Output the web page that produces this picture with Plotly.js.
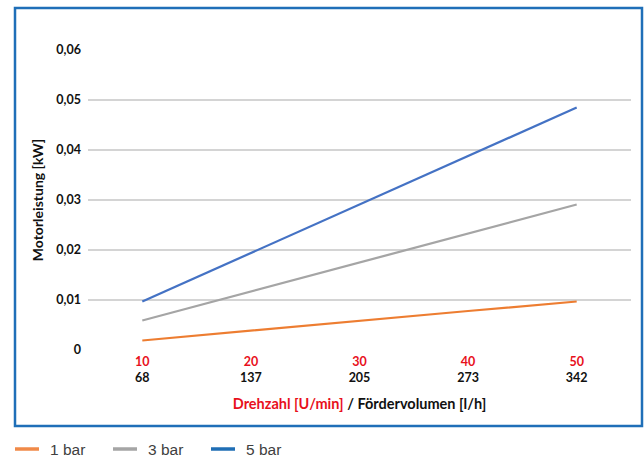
<!DOCTYPE html>
<html>
<head>
<meta charset="utf-8">
<script src="https://cdn.plot.ly/plotly-3.0.1.min.js"></script>
<style>html,body{margin:0;padding:0;background:#fff;}#chart{width:644px;height:457px;}</style>
</head>
<body>
<div id="chart"></div>
<script>
var drehzahl = ['10', '20', '30', '40', '50'];
var foerdervolumen = ['68', '137', '205', '273', '342'];
var bar1 = [0.0019, 0.0039, 0.0058, 0.0078, 0.0097];
var bar3 = [0.0059, 0.0117, 0.0175, 0.0233, 0.0291];
var bar5 = [0.0097, 0.0194, 0.0291, 0.0388, 0.0485];
var seriesNames = ['1 bar', '3 bar', '5 bar'];
var yTicks = [0, 0.01, 0.02, 0.03, 0.04, 0.05, 0.06];
var yTickText = ['0', '0,01', '0,02', '0,03', '0,04', '0,05', '0,06'];

var lineColors = ['#ED7D31', '#A5A5A5', '#4472C4'];
var legendColors = ['#F08A48', '#A5A5A5', '#1F6EB5'];
var seriesData = [bar1, bar3, bar5];

// plot area in pixels (for converting legend pixel positions to paper coords)
var PL = 88, PR = 631, PT = 50, PB = 350;
function px(x) { return (x - PL) / (PR - PL); }
function py(y) { return (PB - y) / (PB - PT); }

var traces = [];
for (var i = 0; i < 3; i++) {
  traces.push({
    x: drehzahl, y: seriesData[i], type: 'scatter', mode: 'lines', name: seriesNames[i],
    line: {color: lineColors[i], width: 2.25}, showlegend: false, hoverinfo: 'skip'
  });
}

var tickText = drehzahl.map(function (d, k) {
  return '<span style="color:#E8101C">' + d + '</span><br>' + foerdervolumen[k];
});

var font = 'Lato, "Open Sans", sans-serif';

var shapes = [{
  type: 'rect', xref: 'paper', yref: 'paper',
  x0: px(15), x1: px(642), y0: py(426), y1: py(8),
  line: {color: '#1F6FB8', width: 2.5}, fillcolor: 'rgba(0,0,0,0)', layer: 'below'
}];
var annotations = [];
var legStart = [15, 113, 211];
var legY = 449;
for (var k = 0; k < 3; k++) {
  shapes.push({
    type: 'line', xref: 'paper', yref: 'paper',
    x0: px(legStart[k]), x1: px(legStart[k] + 24), y0: py(legY), y1: py(legY),
    line: {color: legendColors[k], width: 3.5}
  });
  annotations.push({
    xref: 'paper', yref: 'paper', x: px(legStart[k] + 33), y: py(legY),
    xanchor: 'left', yanchor: 'middle', showarrow: false, text: seriesNames[k],
    font: {family: '"Liberation Sans", Arial, sans-serif', size: 15.5, color: '#404040'}
  });
}

var layout = {
  width: 644, height: 457,
  margin: {l: PL, r: 644 - PR, t: PT, b: 457 - PB, autoexpand: false},
  paper_bgcolor: '#fff', plot_bgcolor: '#fff',
  showlegend: false,
  xaxis: {
    type: 'category', range: [-0.5, 4.5],
    tickvals: drehzahl, ticktext: tickText,
    tickfont: {family: font, size: 12.5, color: '#111', weight: 'bold'},
    showgrid: false, zeroline: false, showline: false, ticks: '', ticklabelstandoff: 2,
    title: {
      text: '<span style="color:#E8101C">Drehzahl [U/min]</span> / Fördervolumen [l/h]',
      font: {family: font, size: 14.5, color: '#111', weight: 'bold'}, standoff: 15
    }
  },
  yaxis: {
    range: [0, 0.06], tickvals: yTicks, ticktext: yTickText,
    tickfont: {family: font, size: 12.5, color: '#111', weight: 'bold'},
    showgrid: true, gridcolor: '#D4D4D4', gridwidth: 1.3,
    zeroline: false, showline: false, ticks: '', ticklabelstandoff: 6,
    title: {text: 'Motorleistung [kW]', font: {family: font, size: 14, color: '#111', weight: 'bold'}, standoff: 9}
  },
  shapes: shapes,
  annotations: annotations
};

Plotly.newPlot('chart', traces, layout, {displayModeBar: false, staticPlot: true});
</script>
</body>
</html>
